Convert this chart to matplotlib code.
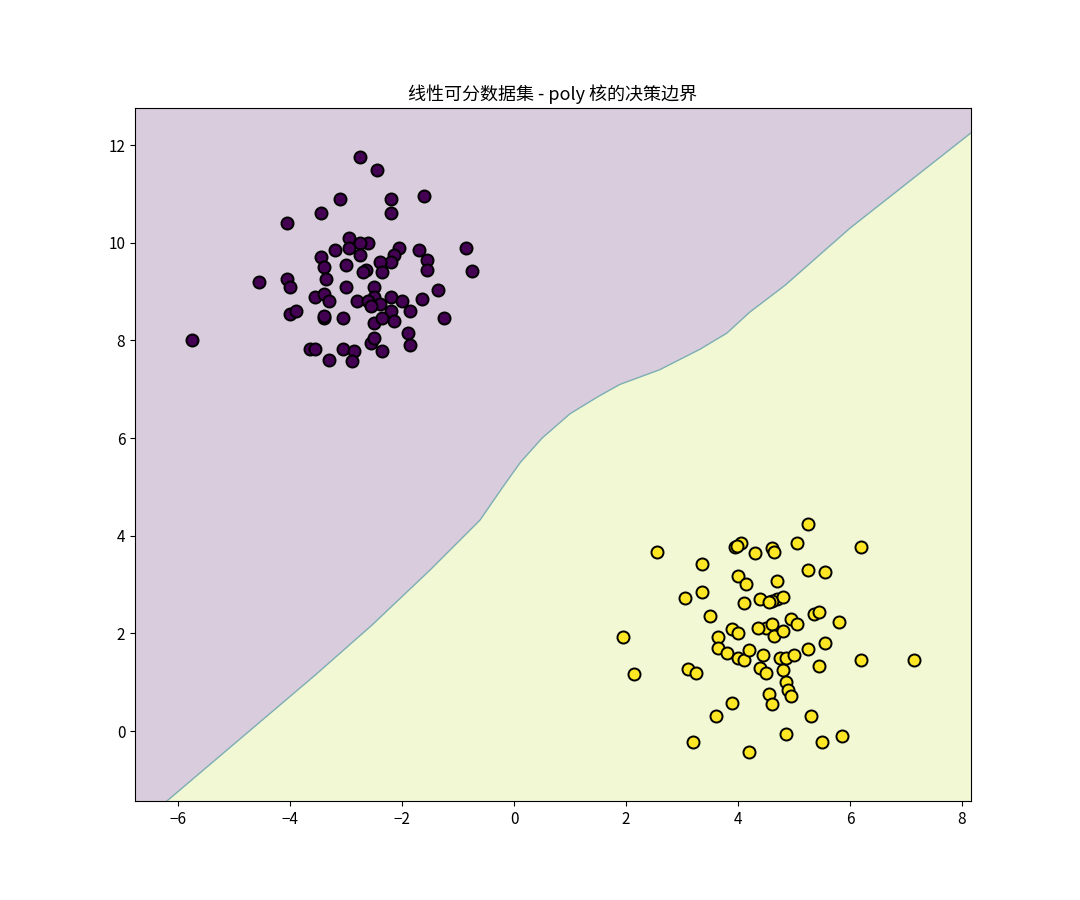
import matplotlib
matplotlib.use("Agg")
import matplotlib.pyplot as plt
import numpy as np

plt.rcParams['font.family'] = ['Noto Sans CJK SC', 'DejaVu Sans']

class0_x = [-5.75,-4.55,-4.05,-4.0,-4.0,-3.9,-4.05,-3.45,-3.1,-2.75,-2.45,-2.2,-2.2,-1.6,-0.85,-0.75,-1.35,-1.25,-1.7,-1.55,-1.55,-2.05,-2.15,-2.2,-2.4,-2.35,-2.6,-2.75,-2.95,-3.2,-2.95,-2.75,-3.45,-3.4,-3.0,-2.65,-2.7,-3.35,-3.55,-3.4,-3.3,-3.0,-2.5,-2.5,-2.2,-2.0,-1.65,-2.8,-2.6,-2.4,-2.55,-1.85,-2.2,-3.4,-3.4,-3.05,-2.5,-2.35,-2.15,-1.9,-2.55,-2.5,-3.65,-3.55,-3.05,-2.85,-2.35,-1.85,-3.3,-2.9]
class0_y = [8.0,9.2,9.25,9.1,8.55,8.6,10.4,10.6,10.9,11.75,11.5,10.9,10.6,10.95,9.9,9.43,9.03,8.45,9.85,9.65,9.45,9.9,9.75,9.6,9.6,9.4,10.0,10.0,10.1,9.85,9.9,9.75,9.7,9.5,9.55,9.45,9.4,9.25,8.9,8.95,8.8,9.1,9.1,8.9,8.9,8.8,8.85,8.8,8.8,8.75,8.7,8.6,8.6,8.45,8.5,8.45,8.35,8.45,8.4,8.15,7.95,8.05,7.82,7.82,7.82,7.78,7.78,7.9,7.6,7.57]
class1_x = [1.95,2.15,2.55,3.05,3.1,3.25,3.2,3.35,3.35,3.5,3.6,3.65,3.65,3.8,3.9,3.9,4.0,4.0,4.0,3.95,4.05,3.98,4.1,4.1,4.15,4.2,4.2,4.3,4.4,4.4,4.45,4.5,4.5,4.55,4.6,4.6,4.6,4.65,4.65,4.7,4.7,4.6,4.8,4.75,4.8,4.8,4.85,4.85,4.9,4.85,4.95,4.95,5.0,5.05,5.05,5.25,5.25,5.25,5.3,5.35,5.45,5.45,5.5,5.55,5.55,5.8,5.85,6.2,6.2,7.15,4.35,4.55]
class1_y = [1.92,1.18,3.67,2.73,1.28,1.2,-0.22,3.42,2.85,2.35,0.32,1.92,1.7,1.6,0.57,2.1,1.5,2.0,3.17,3.78,3.85,3.8,2.62,1.45,3.02,1.67,-0.43,3.65,2.7,1.3,1.55,1.2,2.12,0.77,0.55,2.2,3.75,1.95,3.67,3.07,2.7,2.67,2.75,1.5,2.05,1.25,1.0,-0.05,0.85,1.5,0.72,2.3,1.55,3.85,2.2,1.68,4.25,3.3,0.32,2.4,2.43,1.33,-0.23,3.25,1.8,2.23,-0.1,3.77,1.45,1.45,2.12,2.65]

# decision boundary
bnd_x = [-6.77,-6.2,-3.55,-2.54,-1.5,-0.61,-0.2,0.11,0.5,1.0,1.5,1.89,2.6,3.32,3.8,4.21,4.84,6.0,8.16]
bnd_y = [-2.0,-1.43,1.15,2.17,3.3,4.32,5.0,5.5,6.0,6.5,6.85,7.1,7.4,7.82,8.15,8.58,9.13,10.3,12.25]

xlim = (-6.77, 8.16)
ylim = (-1.43, 12.76)

cmap = plt.get_cmap('viridis')
fig, ax = plt.subplots(figsize=(10.8, 9), dpi=100)
fig.subplots_adjust(left=0.125, right=0.899, bottom=0.11, top=0.88)
bx = np.array(bnd_x); by = np.array(bnd_y)
ax.fill_between(bx, by, ylim[1] + 1, color=cmap(0.0), alpha=0.2, linewidth=0)
ax.fill_between(bx, ylim[0] - 1, by, color=cmap(0.9), alpha=0.2, linewidth=0)
ax.plot(bx, by, color=cmap(0.5), alpha=0.5, lw=1)
ax.scatter(class0_x, class0_y, s=75, c=[cmap(0.0)], edgecolors='k', linewidths=1.4, zorder=3)
ax.scatter(class1_x, class1_y, s=75, c=[cmap(1.0)], edgecolors='k', linewidths=1.4, zorder=3)
ax.set_xlim(*xlim); ax.set_ylim(*ylim)
ax.set_xticks([-6,-4,-2,0,2,4,6,8]); ax.set_yticks([0,2,4,6,8,10,12])
ax.tick_params(labelsize=11)
ax.set_title('线性可分数据集 - poly 核的决策边界', fontsize=13)
fig.savefig('out.png')
